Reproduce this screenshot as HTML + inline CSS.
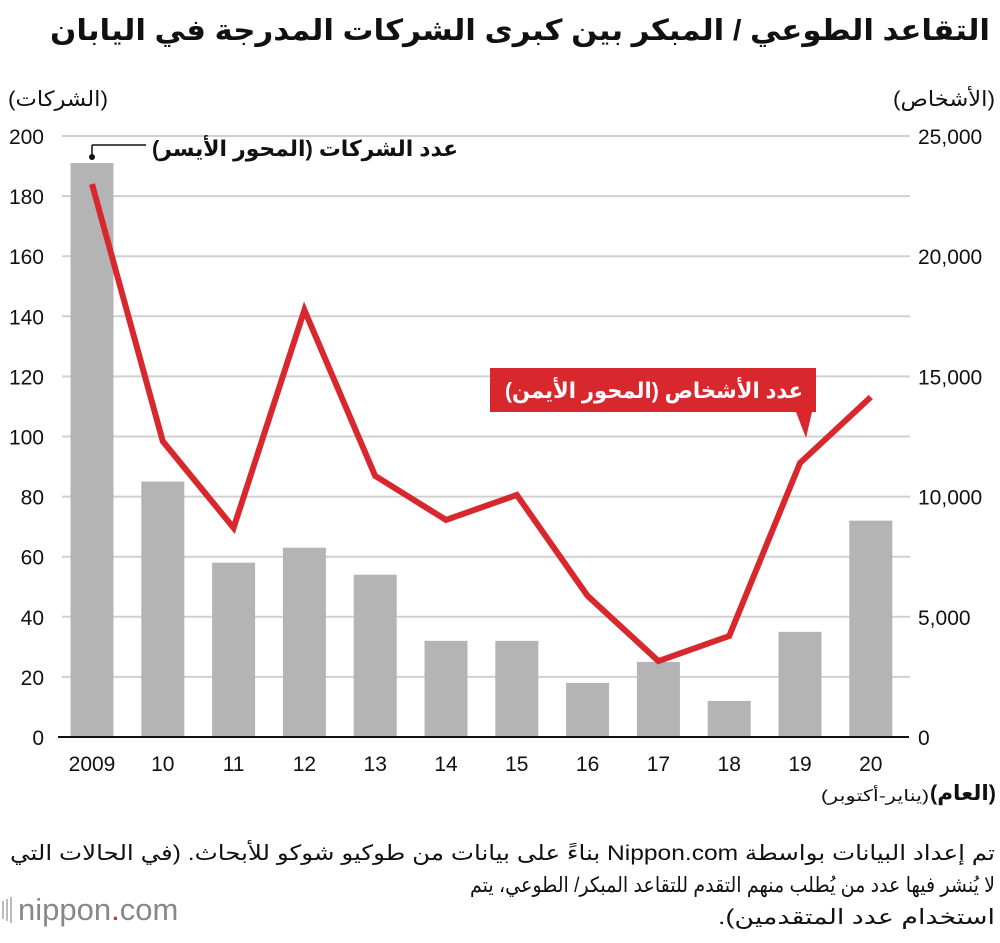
<!DOCTYPE html>
<html><head><meta charset="utf-8">
<style>
html,body{margin:0;padding:0;background:#fff;}
body{width:1000px;height:938px;overflow:hidden;font-family:"Liberation Sans","DejaVu Sans",sans-serif;}
svg text{font-family:"Liberation Sans","DejaVu Sans",sans-serif;}
</style></head>
<body>
<svg id="chart" width="1000" height="938" xmlns="http://www.w3.org/2000/svg">
<text x="990" y="40" text-anchor="start" direction="rtl" font-size="29" font-weight="bold" fill="#111" textLength="940" lengthAdjust="spacingAndGlyphs">التقاعد الطوعي / المبكر بين كبرى الشركات المدرجة في اليابان</text>
<text x="108" y="106" text-anchor="start" direction="rtl" font-size="21" fill="#111" textLength="100" lengthAdjust="spacingAndGlyphs">(الشركات)</text>
<text x="995" y="106" text-anchor="start" direction="rtl" font-size="21" fill="#111" textLength="102" lengthAdjust="spacingAndGlyphs">(الأشخاص)</text>
<g id="grid"></g>
<g id="bars"></g>
<g id="ticks"></g>
<line x1="58" y1="737" x2="909" y2="737" stroke="#111" stroke-width="2"/>
<polyline id="line" fill="none" stroke="#d8282e" stroke-width="6" stroke-linejoin="miter"/>
<g>
<line x1="92" y1="157" x2="92" y2="145" stroke="#111" stroke-width="1.5"/>
<line x1="92" y1="145" x2="146" y2="145" stroke="#111" stroke-width="1.5"/>
<circle cx="92" cy="157" r="3" fill="#111"/>
<text x="458" y="156" text-anchor="start" direction="rtl" font-size="22" font-weight="bold" fill="#111" textLength="306" lengthAdjust="spacingAndGlyphs">عدد الشركات (المحور الأيسر)</text>
</g>
<g>
<rect x="490" y="368" width="326" height="44" fill="#d8282e"/>
<polygon points="796,412 812,412 806,438" fill="#d8282e"/>
<text x="803" y="398" text-anchor="start" direction="rtl" font-size="22" font-weight="bold" fill="#fff" textLength="298" lengthAdjust="spacingAndGlyphs">عدد الأشخاص (المحور الأيمن)</text>
</g>
<text x="996" y="800" text-anchor="start" direction="rtl" font-size="21" font-weight="bold" fill="#111" textLength="66" lengthAdjust="spacingAndGlyphs">(العام)</text>
<text x="929" y="801" text-anchor="start" direction="rtl" font-size="16" fill="#111" textLength="108" lengthAdjust="spacingAndGlyphs">(يناير-أكتوبر)</text>
<text x="995" y="860" text-anchor="start" direction="rtl" font-size="21" fill="#111" textLength="985" lengthAdjust="spacingAndGlyphs">تم إعداد البيانات بواسطة Nippon.com بناءً على بيانات من طوكيو شوكو للأبحاث. (في الحالات التي</text>
<text x="995" y="892" text-anchor="start" direction="rtl" font-size="21" fill="#111" textLength="525" lengthAdjust="spacingAndGlyphs">لا يُنشر فيها عدد من يُطلب منهم التقدم للتقاعد المبكر/ الطوعي، يتم</text>
<text x="995" y="924" text-anchor="start" direction="rtl" font-size="21" fill="#111" textLength="277" lengthAdjust="spacingAndGlyphs">استخدام عدد المتقدمين).</text>
<g>
<rect x="2" y="901" width="2" height="18" fill="#bbb"/><rect x="6" y="899" width="2" height="22" fill="#bbb"/><rect x="10" y="897" width="2" height="26" fill="#bbb"/>
<text x="18" y="920" font-size="31" fill="#888">nippon<tspan fill="#d8282e">.</tspan>com</text>
</g>
</svg>
<script>
const years = ["2009","10","11","12","13","14","15","16","17","18","19","20"];
const companies = [191,85,58,63,54,32,32,18,25,12,35,72];
const persons = [23000,12300,8700,17760,10860,9030,10070,5870,3160,4200,11400,14140];
const leftTicks = [0,20,40,60,80,100,120,140,160,180,200];
const rightTicks = [0,5000,10000,15000,20000,25000];
const rightTickLabels = ["0","5,000","10,000","15,000","20,000","25,000"];

const NS="http://www.w3.org/2000/svg";
const y0=737, yTop=136;
const yL=v=>y0-(v/200)*(y0-yTop);
const yR=v=>y0-(v/25000)*(y0-yTop);
const xC=i=>92+i*70.8;
const grid=document.getElementById('grid'),bars=document.getElementById('bars'),ticks=document.getElementById('ticks');
function mk(tag,attrs,parent){const e=document.createElementNS(NS,tag);for(const k in attrs)e.setAttribute(k,attrs[k]);parent.appendChild(e);return e;}
leftTicks.forEach(v=>{
  if(v>0){const g=mk('line',{x1:62,x2:910,y1:yL(v),y2:yL(v),stroke:'#d0d0d0','stroke-width':2},grid);
  
  }
  const t=mk('text',{x:44,y:yL(v)+8,'text-anchor':'end','font-size':21,fill:'#111'},ticks);
  t.textContent=v;
  
  
});
rightTicks.forEach((v,i)=>{
  const t=mk('text',{x:918,y:yR(v)+8,'font-size':21,fill:'#111'},ticks);
  t.textContent=rightTickLabels[i];
  
  
});
years.forEach((yr,i)=>{
  const r=mk('rect',{x:xC(i)-21.5,y:yL(companies[i]),width:43,height:y0-yL(companies[i]),fill:'#b4b4b4'},bars);
  
  
  const t=mk('text',{x:xC(i),y:771,'text-anchor':'middle','font-size':21,fill:'#111'},ticks);
  t.textContent=yr;
  
  
});
document.getElementById('line').setAttribute('points',persons.map((v,i)=>xC(i)+','+yR(v)).join(' '));
</script>
</body></html>
